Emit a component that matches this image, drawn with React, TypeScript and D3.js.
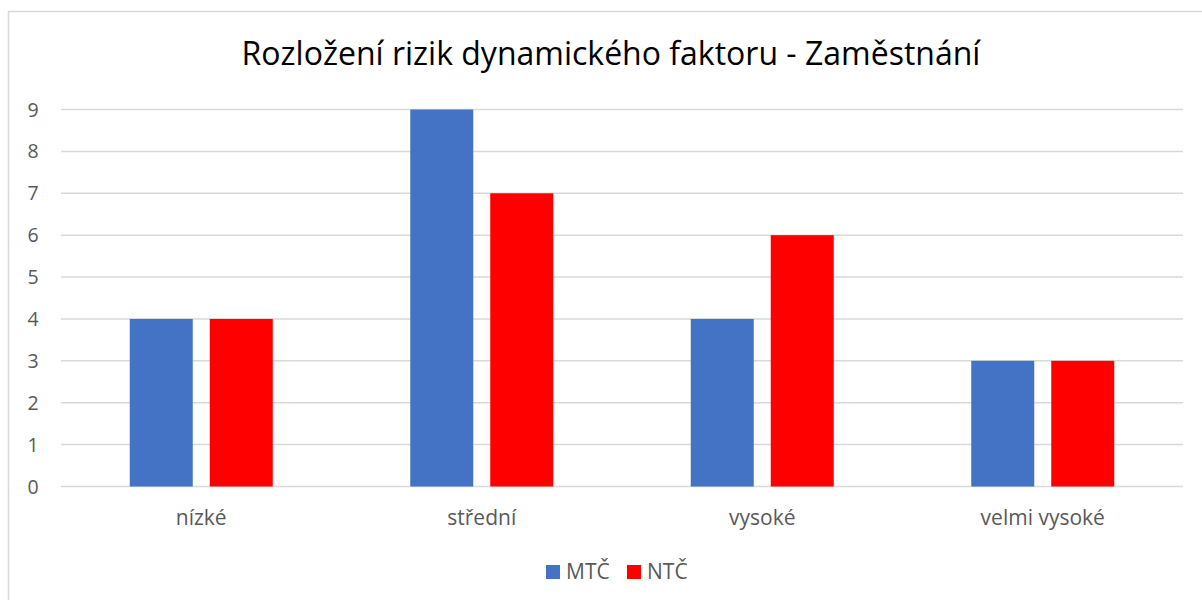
import React, { useEffect, useRef } from "react";
import * as d3 from "d3";

const categories = ["nízké", "střední", "vysoké", "velmi vysoké"];
const seriesNames = ["MTČ", "NTČ"];
const mtcValues = [4, 9, 4, 3];
const ntcValues = [4, 7, 6, 3];
const yTicks = [0, 1, 2, 3, 4, 5, 6, 7, 8, 9];
const colors = ["#4472C4", "#FF0000"];
const title = "Rozložení rizik dynamického faktoru - Zaměstnání";

const FONT = "'Open Sans', 'Noto Sans', sans-serif";

export default function App() {
  const ref = useRef<SVGSVGElement>(null);

  useEffect(() => {
    const svg = d3.select(ref.current);
    svg.selectAll("*").remove();

    // plot area
    const left = 61, right = 1183, top = 109.5, bottom = 486.5;

    // outer border of the chart
    svg.append("rect")
      .attr("x", 8.5).attr("y", 11.5)
      .attr("width", 1205).attr("height", 600)
      .attr("fill", "white")
      .attr("stroke", "#d9d9d9")
      .attr("stroke-width", 1.5);

    const x0 = d3.scaleBand().domain(categories).range([left, right]);
    const y = d3.scaleLinear().domain([0, 9]).range([bottom, top]);

    // grid lines
    svg.selectAll(".grid").data(yTicks).join("line").attr("class", "grid")
      .attr("x1", left).attr("x2", right)
      .attr("y1", d => y(d)).attr("y2", d => y(d))
      .attr("stroke", "#d9d9d9").attr("stroke-width", 1.5);

    // y tick labels
    svg.selectAll(".ytick").data(yTicks).join("text").attr("class", "ytick")
      .attr("x", 33).attr("y", d => y(d) + 7)
      .attr("text-anchor", "middle")
      .attr("font-family", FONT).attr("font-size", 19.5)
      .attr("fill", "#595959")
      .text(d => d);

    // bars: 63px wide, 17px apart, centred in each band
    const barW = 63, gap = 17;
    const x1 = d3.scaleOrdinal<number, number>().domain([0, 1]).range([-(barW + gap / 2), gap / 2]);
    const rows = categories.flatMap((c, i) => [
      { cat: c, s: 0, v: mtcValues[i] },
      { cat: c, s: 1, v: ntcValues[i] },
    ]);
    svg.selectAll(".bar").data(rows).join("rect").attr("class", "bar")
      .attr("x", d => x0(d.cat)! + x0.bandwidth() / 2 + x1(d.s))
      .attr("y", d => y(d.v))
      .attr("width", barW)
      .attr("height", d => y(0) - y(d.v))
      .attr("fill", d => colors[d.s]);

    // category labels
    svg.selectAll(".xlab").data(categories).join("text").attr("class", "xlab")
      .attr("x", d => x0(d)! + x0.bandwidth() / 2)
      .attr("y", 525)
      .attr("text-anchor", "middle")
      .attr("font-family", FONT).attr("font-size", 21)
      .attr("fill", "#595959")
      .text(d => d);

    // title
    svg.append("text")
      .attr("x", 611).attr("y", 65)
      .attr("text-anchor", "middle")
      .attr("font-family", FONT).attr("font-size", 32)
      .attr("fill", "#000")
      .text(title);

    // legend
    const legendX = [546, 627];
    const lg = svg.selectAll(".legend").data(seriesNames).join("g").attr("class", "legend")
      .attr("transform", (d, i) => `translate(${legendX[i]}, 565)`);
    lg.append("rect").attr("width", 14).attr("height", 14).attr("fill", (d, i) => colors[i]);
    lg.append("text")
      .attr("x", 20).attr("y", 14)
      .attr("font-family", FONT).attr("font-size", 21)
      .attr("fill", "#595959")
      .text(d => d);
  }, []);

  return (
    <svg ref={ref} width={1202} height={600}
      style={{ position: "absolute", left: 0, top: 0, background: "white" }} />
  );
}
